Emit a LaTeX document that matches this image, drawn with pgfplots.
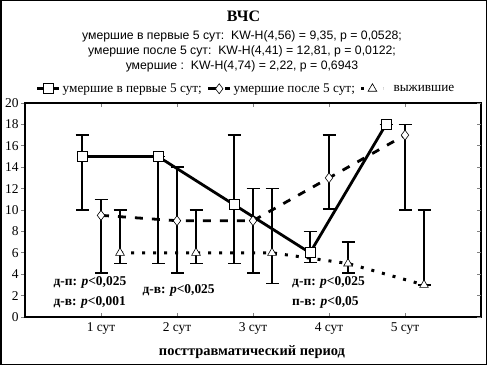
\documentclass[border=0pt]{standalone}
\usepackage{fontspec}
\setmainfont{Liberation Serif}
\newfontfamily\arial{Liberation Sans}
\usepackage{pgfplots}
\usepackage{pgfplotstable}
\pgfplotsset{compat=1.18}
\pgfplotstableread{
x y ep em
0.75 15 2 5
1.75 15 0 10
2.75 10.5 6.5 5.5
3.75 6 2 0.9
4.75 18 0 0
}\sqdata
\pgfplotstableread{
x y ep em
1 9.5 1.5 5.4
2 9 5 4.9
3 9 3 4.9
4 13 4 2.9
5 17 1 7
}\dmdata
\pgfplotstableread{
x y ep em
1.25 6 4 1
2.25 6 4 1
3.25 6 6 2.85
4.25 5 2 0.9
5.25 3 7 0
}\trdata
\begin{document}
\begin{tikzpicture}[x=1bp,y=1bp]
\path[use as bounding box] (0,0) rectangle (487,365);
\draw[line width=1.5bp] (0.75,0.75) rectangle (486.25,364.25);
\node[font=\bfseries\fontsize{16}{18}\selectfont] at (243.5,349) {ВЧС};
\node[font=\arial\fontsize{12.3}{14}\selectfont] at (242,329) {умершие в первые 5 сут:\ \ KW-H(4,56) = 9,35, p = 0,0528;};
\node[font=\arial\fontsize{12.3}{14}\selectfont] at (242,314) {умершие после 5 сут:\ \ KW-H(4,41) = 12,81, p = 0,0122;};
\node[font=\arial\fontsize{12.3}{14}\selectfont] at (242,299) {умершие :\ \ KW-H(4,74) = 2,22, p = 0,6943};
\node[font=\bfseries\fontsize{14.5}{16}\selectfont] at (252,13) {посттравматический период};
\begin{axis}[
  at={(25bp,48bp)}, anchor=south west, scale only axis,
  width=456bp, height=214bp,
  xmin=0, xmax=6, ymin=0, ymax=20,
  xtick={1,2,3,4,5},
  xticklabels={1 сут,2 сут,3 сут,4 сут,5 сут},
  ytick={0,2,...,20},
  ytick pos=left,
  xtick pos=both,
  x tick style={line width=0.8bp},
  y tick style={line width=0.8bp},
  xtick align=inside,
  ytick align=outside,
  major tick length=4bp,
  axis line style={line width=1.3bp},
  tick label style={font=\fontsize{13.5}{15}\selectfont},
  yticklabel style={xshift=1bp},
  /pgf/number format/assume math mode=true,
  xticklabel style={yshift=-2bp},
  legend style={at={(0.485,1)}, anchor=south, yshift=5bp, draw=none, fill=none,
     legend columns=3, font=\fontsize{13.3}{15}\selectfont,
     /tikz/every even column/.append style={column sep=3bp}},
  legend image code/.code={
     \draw[mark repeat=2,mark phase=2] plot coordinates {(0bp,0bp)(11bp,0bp)(22bp,0bp)};},
  clip=false,
]
\addplot[black, line width=2.8bp, mark=square*, mark size=5bp,
  mark options={solid, fill=white, line width=0.8bp},
  error bars/.cd, y dir=both, y explicit,
  error bar style={solid, line width=1.5bp},
  error mark options={rotate=90, mark size=6.5bp, line width=1.5bp, solid}]
  table[x=x, y=y, y error plus=ep, y error minus=em] {\sqdata};
\addlegendentry{умершие в первые 5 сут;}
\addplot[black, line width=2.8bp, dash pattern=on 8bp off 9bp, mark=diamond*, mark size=5bp,
  mark options={solid, fill=white, line width=0.6bp},
  error bars/.cd, y dir=both, y explicit,
  error bar style={solid, line width=1.5bp},
  error mark options={rotate=90, mark size=6.5bp, line width=1.5bp, solid}]
  table[x=x, y=y, y error plus=ep, y error minus=em] {\dmdata};
\addlegendentry{умершие после 5 сут;}
\addplot[black, line width=3bp, dash pattern=on 3bp off 8bp, mark=triangle*, mark size=5bp,
  mark options={solid, fill=white, line width=0.6bp},
  error bars/.cd, y dir=both, y explicit,
  error bar style={solid, line width=1.5bp},
  error mark options={rotate=90, mark size=6.5bp, line width=1.5bp, solid}]
  table[x=x, y=y, y error plus=ep, y error minus=em] {\trdata};
\addlegendentry{\ \ выжившие}
\node[anchor=west, font=\bfseries\fontsize{13.5}{15}\selectfont] at (axis cs:0.33,3.2) {д-п: \textit{p}<0,025};
\node[anchor=west, font=\bfseries\fontsize{13.5}{15}\selectfont] at (axis cs:0.33,1.4) {д-в: \textit{p}<0,001};
\node[anchor=west, font=\bfseries\fontsize{13.5}{15}\selectfont] at (axis cs:1.5,2.5) {д-в: \textit{p}<0,025};
\node[anchor=west, font=\bfseries\fontsize{13.5}{15}\selectfont] at (axis cs:3.47,3.2) {д-п: \textit{p}<0,025};
\node[anchor=west, font=\bfseries\fontsize{13.5}{15}\selectfont] at (axis cs:3.47,1.4) {п-в: \textit{p}<0,05};
\end{axis}
\begin{axis}[
  at={(25bp,48bp)}, anchor=south west, scale only axis,
  width=456bp, height=214bp,
  xmin=0, xmax=6, ymin=0, ymax=20,
  ytick={0,2,...,20}, yticklabels={}, ytick pos=right, ytick align=inside,
  xtick=\empty, major tick length=4bp,
  y tick style={line width=0.8bp},
  axis line style={draw=none},
]
\addplot[draw=none, forget plot] coordinates {(0,0)};
\end{axis}
\end{tikzpicture}
\end{document}
